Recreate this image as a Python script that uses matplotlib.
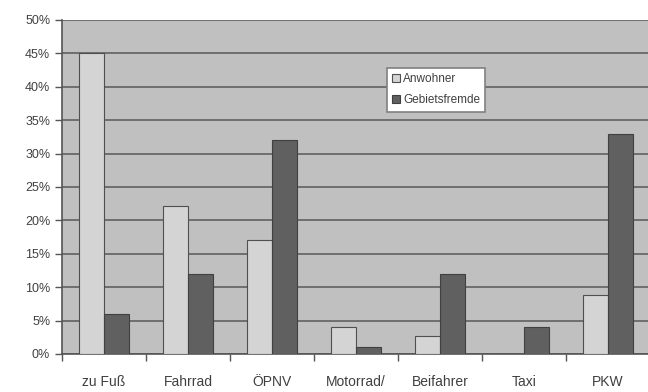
import numpy as np
import matplotlib.pyplot as plt

plt.rcParams['font.family'] = ['Liberation Sans', 'DejaVu Sans']

# Daten
kategorien = ["zu Fuß", "Fahrrad", "ÖPNV", "Motorrad/", "Beifahrer", "Taxi", "PKW"]
anwohner = [45, 22.2, 17, 4, 2.7, 0, 8.8]
gebietsfremde = [6, 12, 32, 1, 12, 4, 33]

fig = plt.figure(figsize=(6.48, 3.92), dpi=100)
ax = fig.add_axes([62 / 648, 1 - 354 / 392, 588 / 648, 334 / 392])
ax.set_facecolor("#c0c0c0")

index = np.arange(len(kategorien))
width = 0.3

ax.bar(index + 0.5 - width, anwohner, width=width, align="edge", color="#d4d4d4",
       edgecolor="#505050", linewidth=0.8, label="Anwohner", zorder=3)
ax.bar(index + 0.5, gebietsfremde, width=width, align="edge", color="#606060",
       edgecolor="#404040", linewidth=0.8, label="Gebietsfremde", zorder=3)

ax.set_xlim(0, len(kategorien))
ax.set_ylim(0, 50)

# y-Achse
ax.set_yticks(range(0, 51, 5))
ax.set_yticklabels([f"{v}%" for v in range(0, 51, 5)])
ax.yaxis.grid(True, color="#6e6e6e", linewidth=1.4, zorder=1)
ax.set_axisbelow(True)

# x-Achse: Striche an Grenzen, Beschriftung in der Mitte
ax.set_xticks(range(0, len(kategorien) + 1))
ax.set_xticklabels([])
ax.set_xticks(index + 0.5, minor=True)
ax.set_xticklabels(kategorien, minor=True)
ax.tick_params(axis="x", which="minor", length=0, pad=15)
ax.tick_params(axis="both", which="major", length=5, width=1, color="#555555",
               labelcolor="#404040", labelsize=9)
ax.tick_params(axis="x", which="minor", labelcolor="#404040", labelsize=10)

for s in ["top", "right"]:
    ax.spines[s].set_visible(False)
ax.spines["left"].set_color("#555555")
ax.spines["bottom"].set_color("#555555")
ax.spines["left"].set_linewidth(1.2)
ax.spines["bottom"].set_linewidth(1.2)

leg = ax.legend(loc="upper left", bbox_to_anchor=(0.553, 0.856), fontsize=8.5,
                frameon=True, fancybox=False, edgecolor="#808080", framealpha=1,
                handlelength=0.6, handleheight=0.6, handletextpad=0.3,
                borderpad=0.45, labelspacing=0.75, borderaxespad=0)
leg.get_frame().set_linewidth(1.2)
for t in leg.get_texts():
    t.set_color("#404040")

plt.savefig("out.png", dpi=100)
